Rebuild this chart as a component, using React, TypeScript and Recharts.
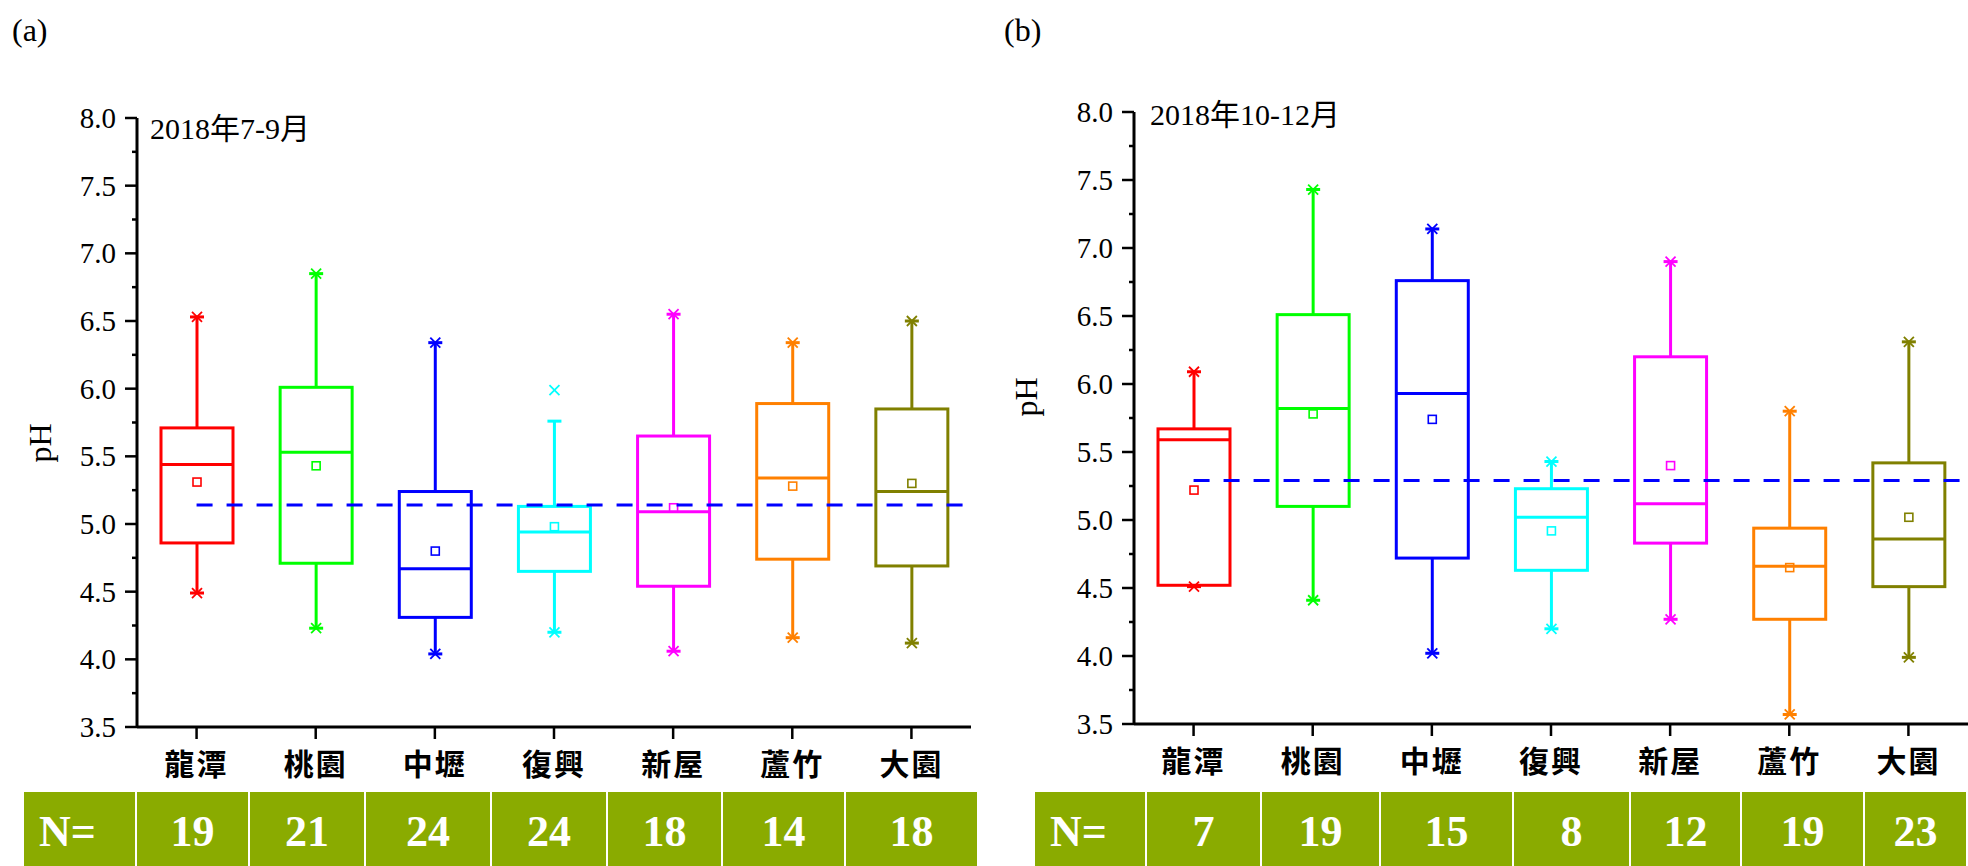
import { Bar, ComposedChart, ReferenceLine, XAxis, YAxis } from 'recharts'

const stations = ['龍潭', '桃園', '中壢', '復興', '新屋', '蘆竹', '大園']
const boxColors = ['#ff0000', '#00ff00', '#0000ff', '#00ffff', '#ff00ff', '#ff8000', '#808000']
const yTicks = [3.5, 3.75, 4, 4.25, 4.5, 4.75, 5, 5.25, 5.5, 5.75, 6, 6.25, 6.5, 6.75, 7, 7.25, 7.5, 7.75, 8]

// (a) 2018年7-9月
const minA = [4.49, 4.23, 4.04, 4.2, 4.06, 4.16, 4.12]
const q1A = [4.86, 4.71, 4.31, 4.65, 4.54, 4.74, 4.69]
const medianA = [5.44, 5.53, 4.67, 4.94, 5.09, 5.34, 5.24]
const q3A = [5.71, 6.01, 5.24, 5.13, 5.65, 5.89, 5.85]
const whiskerA = [6.53, 6.85, 6.34, 5.76, 6.55, 6.34, 6.5]
const maxA = [6.53, 6.85, 6.34, 5.99, 6.55, 6.34, 6.5]
const meanA = [5.31, 5.43, 4.8, 4.98, 5.12, 5.28, 5.3]
const countA = [19, 21, 24, 24, 18, 14, 18]
const refA = 5.14

// (b) 2018年10-12月
const minB = [4.51, 4.41, 4.02, 4.2, 4.27, 3.57, 3.99]
const q1B = [4.52, 5.1, 4.72, 4.63, 4.83, 4.27, 4.51]
const medianB = [5.59, 5.82, 5.93, 5.02, 5.12, 4.66, 4.86]
const q3B = [5.67, 6.51, 6.76, 5.23, 6.2, 4.94, 5.42]
const whiskerB = [6.09, 7.43, 7.14, 5.43, 6.9, 5.8, 6.31]
const maxB = [6.09, 7.43, 7.14, 5.43, 6.9, 5.8, 6.31]
const meanB = [5.22, 5.78, 5.74, 4.92, 5.4, 4.65, 5.02]
const countB = [7, 19, 15, 8, 12, 19, 23]
const refB = 5.29

// table cell edges (px) under each panel
const tableEdgesA = [24, 137, 250, 366, 492, 608, 723, 846, 979]
const tableEdgesB = [1035, 1147, 1262, 1381, 1514, 1631, 1742, 1865, 1968]

// category slots on a 0..7 numeric axis, stations sit in the middle of each slot
const slotTicks = stations.map((_, i) => i + 0.5)

const serif = "'Liberation Serif', 'Times New Roman', serif"
const cjkSerif = "'Liberation Serif', 'Noto Sans CJK TC', serif"
const cjk = "'Noto Sans CJK TC', 'Noto Sans CJK SC', sans-serif"

const buildRows = (
  min: number[], q1: number[], median: number[], q3: number[],
  whisker: number[], max: number[], mean: number[],
) =>
  stations.map((name, i) => ({
    name,
    pos: slotTicks[i],
    range: [min[i], max[i]],
    low: min[i],
    q1: q1[i],
    median: median[i],
    q3: q3[i],
    whisker: whisker[i],
    high: max[i],
    mean: mean[i],
  }))

const XMark = ({ cx, cy, color }: { cx: number; cy: number; color: string }) => (
  <g stroke={color} strokeWidth={1.8}>
    <line x1={cx - 5} y1={cy - 5} x2={cx + 5} y2={cy + 5} />
    <line x1={cx - 5} y1={cy + 5} x2={cx + 5} y2={cy - 5} />
  </g>
)

const BoxShape = (props: any) => {
  const { x, y, width, height, payload } = props
  const color = boxColors[stations.indexOf(payload.name)]
  const top = Math.min(y, y + height)
  const h = Math.abs(height)
  const [lo, hi] = payload.range
  const py = (v: number) => (hi === lo ? top : top + ((hi - v) / (hi - lo)) * h)
  const cx = x + width / 2
  const cap = 7
  return (
    <g>
      <g stroke={color} strokeWidth={3} fill="none">
        <line x1={cx} x2={cx} y1={py(payload.q3)} y2={py(payload.whisker)} />
        <line x1={cx} x2={cx} y1={py(payload.q1)} y2={py(payload.low)} />
        <line x1={cx - cap} x2={cx + cap} y1={py(payload.whisker)} y2={py(payload.whisker)} />
        <line x1={cx - cap} x2={cx + cap} y1={py(payload.low)} y2={py(payload.low)} />
        <rect x={x} y={py(payload.q3)} width={width} height={py(payload.q1) - py(payload.q3)} fill="none" />
        <line x1={x} x2={x + width} y1={py(payload.median)} y2={py(payload.median)} />
      </g>
      <rect x={cx - 4} y={py(payload.mean) - 4} width={8} height={8} fill="none" stroke={color} strokeWidth={1.6} />
      <XMark cx={cx} cy={py(payload.high)} color={color} />
      <XMark cx={cx} cy={py(payload.low)} color={color} />
    </g>
  )
}

const YTick = (props: any) => {
  const { x, y, payload } = props
  const v = payload.value
  const major = Math.abs(v * 2 - Math.round(v * 2)) < 1e-6
  return (
    <g>
      <line x1={x - (major ? 12 : 5)} x2={x} y1={y} y2={y} stroke="#000" strokeWidth={2.5} />
      {major && (
        <text x={x - 21} y={y} dy="0.34em" textAnchor="end" fontSize={29} fontFamily={serif} fill="#000">
          {v.toFixed(1)}
        </text>
      )}
    </g>
  )
}

const XTick = (props: any) => {
  const { x, y, payload } = props
  const name = stations[slotTicks.indexOf(payload.value)] ?? ''
  return (
    <g>
      <line x1={x} x2={x} y1={y} y2={y + 12} stroke="#000" strokeWidth={2.5} />
      <text x={x} y={y + 37} dy="0.36em" textAnchor="middle" fontSize={30} fontWeight={700} fontFamily={cjk} fill="#000" letterSpacing={2}>
        {name}
      </text>
    </g>
  )
}

type PanelProps = {
  rows: ReturnType<typeof buildRows>
  refValue: number
  left: number
  width: number
  plotLeft: number
  plotRight: number
  plotTop: number
  plotBottom: number
}

const BoxPanel = ({ rows, refValue, left, width, plotLeft, plotRight, plotTop, plotBottom }: PanelProps) => {
  const height = 866
  const yAxisWidth = 60
  const xAxisHeight = 60
  return (
    <div style={{ position: 'absolute', left, top: 0 }}>
      <ComposedChart
        width={width}
        height={height}
        data={rows}
        margin={{
          top: plotTop,
          left: plotLeft - yAxisWidth,
          right: width - plotRight,
          bottom: height - plotBottom - xAxisHeight,
        }}
      >
        <XAxis
          dataKey="pos"
          type="number"
          domain={[0, 7]}
          ticks={slotTicks}
          interval={0}
          allowDataOverflow
          height={xAxisHeight}
          axisLine={{ stroke: '#000', strokeWidth: 3 }}
          tickLine={false}
          tickSize={0}
          tickMargin={0}
          tick={<XTick />}
        />
        <YAxis
          type="number"
          domain={[3.5, 8]}
          ticks={yTicks}
          interval={0}
          allowDataOverflow
          width={yAxisWidth}
          axisLine={{ stroke: '#000', strokeWidth: 3 }}
          tickLine={false}
          tickSize={0}
          tickMargin={0}
          tick={<YTick />}
        />
        <ReferenceLine
          segment={[{ x: slotTicks[0], y: refValue }, { x: 7, y: refValue }]}
          ifOverflow="visible"
          stroke="#0000ff"
          strokeWidth={3}
          strokeDasharray="16 14"
        />
        <Bar dataKey="range" barSize={72} shape={<BoxShape />} isAnimationActive={false} />
      </ComposedChart>
    </div>
  )
}

const CountTable = ({ edges, counts }: { edges: number[]; counts: number[] }) => {
  const labels = ['N=', ...counts.map(String)]
  return (
    <>
      {labels.map((label, i) => (
        <div
          key={i}
          style={{
            position: 'absolute',
            left: edges[i],
            top: 792,
            width: edges[i + 1] - edges[i] - 2,
            height: 74,
            background: '#8aab00',
            color: '#fff',
            fontFamily: serif,
            fontWeight: 700,
            fontSize: 44,
            lineHeight: '80px',
            textAlign: i === 0 ? 'left' : 'center',
            paddingLeft: i === 0 ? 15 : 0,
            boxSizing: 'border-box',
          }}
        >
          {label}
        </div>
      ))}
    </>
  )
}

const textStyle = (left: number, top: number, size: number): React.CSSProperties => ({
  position: 'absolute',
  left,
  top,
  fontFamily: cjkSerif,
  fontSize: size,
  lineHeight: 1,
  color: '#000',
  whiteSpace: 'nowrap',
})

export default function App() {
  const rowsA = buildRows(minA, q1A, medianA, q3A, whiskerA, maxA, meanA)
  const rowsB = buildRows(minB, q1B, medianB, q3B, whiskerB, maxB, meanB)
  return (
    <div style={{ position: 'absolute', left: 0, top: 0, width: 1968, height: 866, background: '#fff', overflow: 'hidden' }}>
      <BoxPanel rows={rowsA} refValue={refA} left={0} width={1000} plotLeft={137} plotRight={971} plotTop={118} plotBottom={727} />
      <BoxPanel rows={rowsB} refValue={refB} left={980} width={988} plotLeft={154} plotRight={988} plotTop={112} plotBottom={724} />

      <div style={textStyle(12, 14, 32)}>(a)</div>
      <div style={textStyle(1004, 14, 32)}>(b)</div>
      <div style={textStyle(150, 114, 30)}>2018年7-9月</div>
      <div style={textStyle(1150, 100, 30)}>2018年10-12月</div>

      <div style={{ ...textStyle(20, 427, 32), transform: 'rotate(-90deg)', transformOrigin: 'center' }}>pH</div>
      <div style={{ ...textStyle(1006, 381, 32), transform: 'rotate(-90deg)', transformOrigin: 'center' }}>pH</div>

      <CountTable edges={tableEdgesA} counts={countA} />
      <CountTable edges={tableEdgesB} counts={countB} />
    </div>
  )
}
